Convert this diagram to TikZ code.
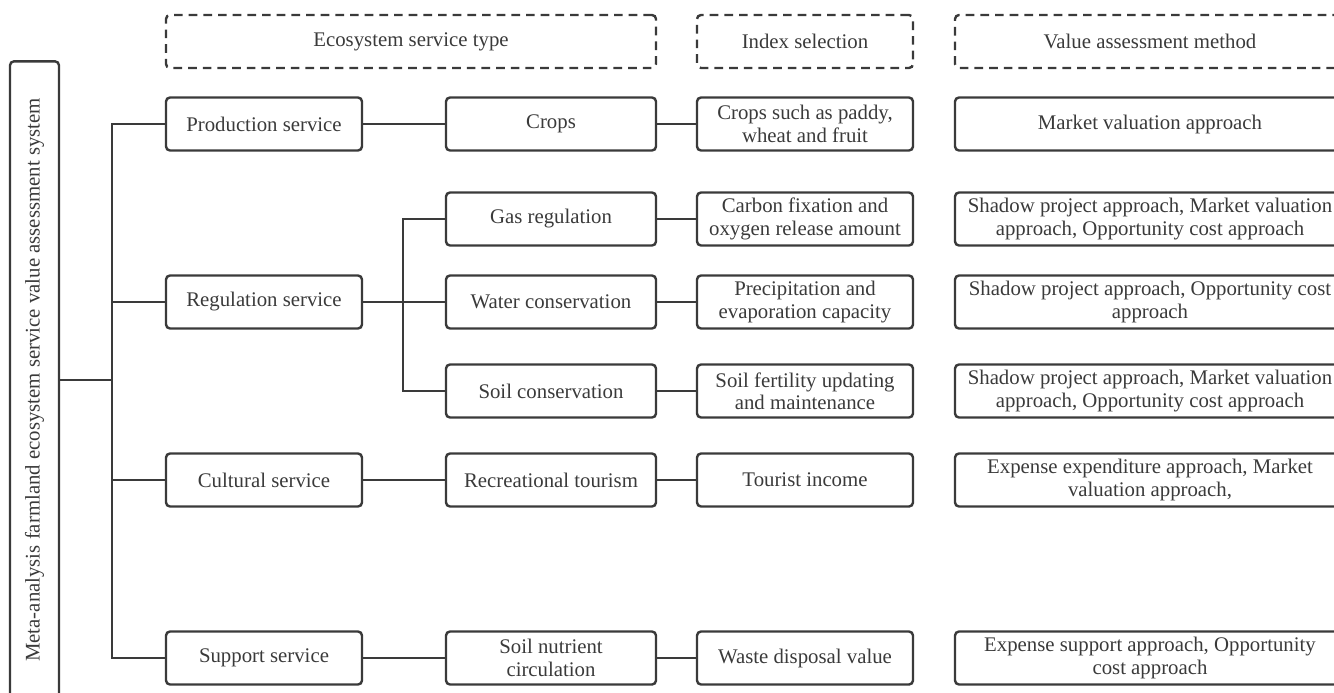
\documentclass[tikz,border=0pt]{standalone}
\usepackage{fontspec}
\setmainfont{Liberation Serif}
\usetikzlibrary{positioning}
\definecolor{linegray}{HTML}{3A3A3A}

\begin{document}
\begin{tikzpicture}[
  x=0.75pt, y=-0.75pt,
  box/.style={
    rectangle, rounded corners=3pt, draw=linegray, line width=1.8pt,
    minimum height=39.75pt, inner sep=0pt, align=center,
    text=linegray, font=\fontsize{15.6}{16.8}\selectfont
  },
  head/.style={box, dash pattern=on 6.5pt off 4.5pt},
  lvlA/.style={box, minimum width=147pt},
  lvlB/.style={box, minimum width=157.5pt},
  lvlC/.style={box, minimum width=162pt},
  lvlD/.style={box, minimum width=292.5pt},
  link/.style={draw=linegray, line width=1.8pt}
]
  \useasboundingbox (0,0) rectangle (1334,692);
  \clip (0,0) rectangle (1334,692);

  % Headers
  \node[head, minimum width=367.5pt] (hType)  at (411,41.5)  {Ecosystem service type};
  \node[head, minimum width=162pt]   (hIndex) at (805,41.5)  {Index selection};
  \node[head, minimum width=292.5pt] (hValue) at (1150,41.5) {Value assessment method};

  % Root
  \node[box, minimum width=478pt, minimum height=36.75pt, rotate=90] (meta) at (34.5,380)
    {Meta-analysis farmland ecosystem service value assessment system};

  % Service types
  \node[lvlA] (prod) at (264,124) {Production service};
  \node[lvlA] (reg)  at (264,302) {Regulation service};
  \node[lvlA] (cult) at (264,480) {Cultural service};
  \node[lvlA] (supp) at (264,658) {Support service};

  % Sub services
  \node[lvlB] (crops) at (551,124) {Crops};
  \node[lvlB] (gas)   at (551,219) {Gas regulation};
  \node[lvlB] (water) at (551,302) {Water conservation};
  \node[lvlB] (soil)  at (551,391) {Soil conservation};
  \node[lvlB] (recr)  at (551,480) {Recreational tourism};
  \node[lvlB] (nutr)  at (551,658) {Soil nutrient\\circulation};

  % Indexes
  \node[lvlC] (iCrops) at (805,124) {Crops such as paddy,\\wheat and fruit};
  \node[lvlC] (iGas)   at (805,219) {Carbon fixation and\\oxygen release amount};
  \node[lvlC] (iWater) at (805,302) {Precipitation and\\evaporation capacity};
  \node[lvlC] (iSoil)  at (805,391) {Soil fertility updating\\and maintenance};
  \node[lvlC] (iRecr)  at (805,480) {Tourist income};
  \node[lvlC] (iNutr)  at (805,658) {Waste disposal value};

  % Methods
  \node[lvlD] (mCrops) at (1150,124) {Market valuation approach};
  \node[lvlD] (mGas)   at (1150,219) {Shadow project approach, Market valuation\\approach, Opportunity cost approach};
  \node[lvlD] (mWater) at (1150,302) {Shadow project approach, Opportunity cost\\approach};
  \node[lvlD] (mSoil)  at (1150,391) {Shadow project approach, Market valuation\\approach, Opportunity cost approach};
  \node[lvlD] (mRecr)  at (1150,480) {Expense expenditure approach, Market\\valuation approach,};
  \node[lvlD] (mNutr)  at (1150,658) {Expense support approach, Opportunity\\cost approach};

  % Forks
  \coordinate (fork)  at (112,380);
  \coordinate (rfork) at (403,302);

  % Lines
  \draw[link] (meta.south) -- (fork);
  \draw[link] (prod.west) -| (fork) |- (supp.west);
  \draw[link] (fork |- reg.west)  -- (reg.west);
  \draw[link] (fork |- cult.west) -- (cult.west);
  \draw[link] (prod.east) -- (crops.west);
  \draw[link] (reg.east)  -- (water.west);
  \draw[link] (gas.west) -| (rfork) |- (soil.west);
  \draw[link] (cult.east) -- (recr.west);
  \draw[link] (supp.east) -- (nutr.west);
  \draw[link] (crops.east) -- (iCrops.west);
  \draw[link] (gas.east)   -- (iGas.west);
  \draw[link] (water.east) -- (iWater.west);
  \draw[link] (soil.east)  -- (iSoil.west);
  \draw[link] (recr.east)  -- (iRecr.west);
  \draw[link] (nutr.east)  -- (iNutr.west);
\end{tikzpicture}
\end{document}
